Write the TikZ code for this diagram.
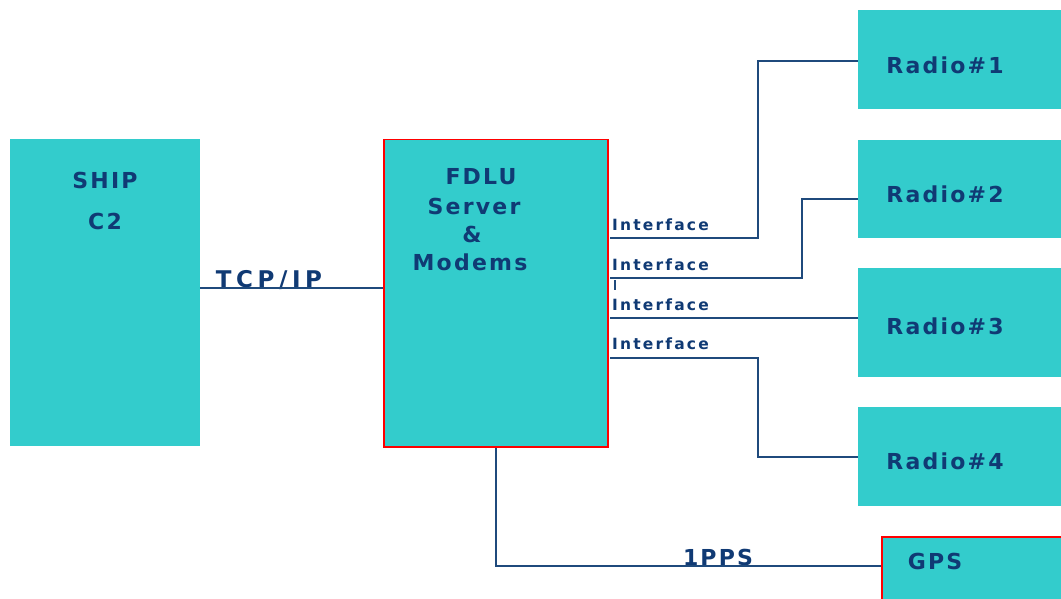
\documentclass[tikz,border=0pt]{standalone}
\usepackage{fontspec}
\newfontfamily\labA[LetterSpace=10]{DejaVu Sans}
\newfontfamily\labB[LetterSpace=14]{DejaVu Sans}
\newfontfamily\labC[LetterSpace=20]{DejaVu Sans}
\definecolor{boxfill}{HTML}{33CCCC}
\definecolor{navy}{HTML}{103A74}
\definecolor{wire}{HTML}{1F4A7C}
\begin{document}
\begin{tikzpicture}[x=1pt,y=-1pt,
  box/.style={draw=none,fill=boxfill,inner sep=0pt,anchor=north west},
  redbox/.style={box,draw=red,line width=1.5pt},
  big/.style={text=navy,font=\labA\bfseries\fontsize{22}{26}\selectfont,inner sep=0pt},
  link/.style={text=navy,font=\labC\bfseries\fontsize{23}{27}\selectfont,inner sep=0pt},
  small/.style={text=navy,font=\labB\bfseries\fontsize{15.5}{18}\selectfont,inner sep=0pt,anchor=west},
  wirestyle/.style={draw=wire,line width=1.6pt}]
\useasboundingbox (0,0) rectangle (1061,599);
% boxes
\node[box,minimum width=190pt,minimum height=307pt] (ship) at (10,139) {};
\node[redbox,minimum width=224pt,minimum height=307pt] (fdlu) at (383,139) {};
\node[box,minimum width=210pt,minimum height=99pt] (r1) at (858,10) {};
\node[box,minimum width=210pt,minimum height=98pt] (r2) at (858,140) {};
\node[box,minimum width=210pt,minimum height=109pt] (r3) at (858,268) {};
\node[box,minimum width=210pt,minimum height=99pt] (r4) at (858,407) {};
\node[redbox,minimum width=200pt,minimum height=80pt] (gps) at (881,536) {};
% box texts
\node[big] (tship) at (105,180) {SHIP};
\node[big] (tc2) at (105,221) {C2};
\node[big] (tf1) at (481,177) {FDLU};
\node[big] (tf2) at (474,206) {Server};
\node[big] (tf3) at (472,234) {\&};
\node[big] (tf4) at (470,262) {Modems};
\node[big] (tr1) at (945,65) {Radio\#1};
\node[big] (tr2) at (945,194) {Radio\#2};
\node[big] (tr3) at (945,326) {Radio\#3};
\node[big] (tr4) at (945,461) {Radio\#4};
\node[big] (tg) at (935,561) {GPS};
% connector labels
\node[link] (ttcp) at (269,280) {TCP/IP};
\node[big] (tpps) at (718,557) {1PPS};
\node[small] (i1) at (612,225) {Interface};
\node[small] (i2) at (612,265) {Interface};
\node[small] (i3) at (612,305) {Interface};
\node[small] (i4) at (612,344) {Interface};
% connector end points
\coordinate (s1) at (610,238);
\coordinate (s2) at (610,278);
\coordinate (s3) at (610,318);
\coordinate (s4) at (610,358);
\coordinate (tk1) at (615,280);
\coordinate (tk2) at (615,290);
% connectors
\draw[wirestyle] (ship.east |- 0,288) -- (fdlu.west |- 0,288);
\draw[wirestyle] (s1) -- (758,238) -- (758,61) -- (r1.west |- 0,61);
\draw[wirestyle] (s2) -- (802,278) -- (802,199) -- (r2.west |- 0,199);
\draw[wirestyle] (s3) -- (r3.west |- 0,318);
\draw[wirestyle] (s4) -- (758,358) -- (758,457) -- (r4.west |- 0,457);
\draw[wirestyle] (fdlu.south -| 496,0) -- (496,566) -- (gps.west |- 0,566);
\draw[draw=wire,line width=2.2pt] (tk1) -- (tk2);
\end{tikzpicture}
\end{document}
